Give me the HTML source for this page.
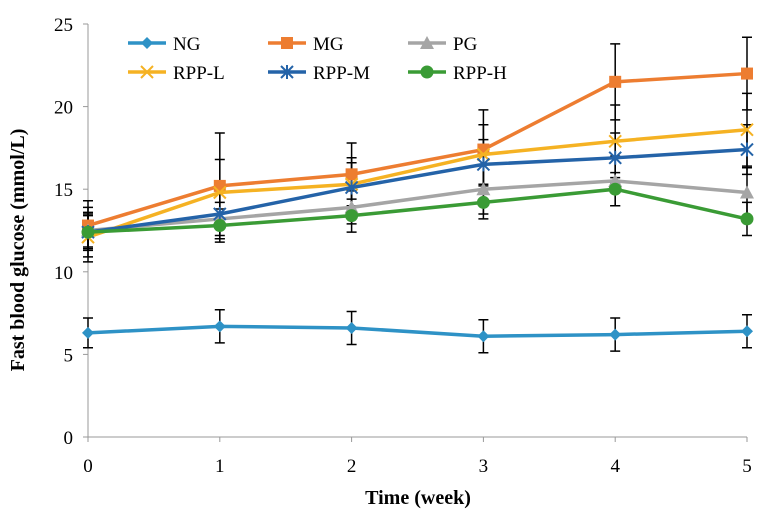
<!DOCTYPE html>
<html><head><meta charset="utf-8"><style>
body{margin:0;background:#fff}
svg{font-family:"Liberation Serif",serif}
</style></head><body>
<svg id="c" width="766" height="520"></svg>
<script>
const weeks=[0,1,2,3,4,5];
const yTicks=[0,5,10,15,20,25];
const seriesNames=["NG","MG","PG","RPP-L","RPP-M","RPP-H"];
const ngVals=[6.3,6.7,6.6,6.1,6.2,6.4];
const mgVals=[12.8,15.2,15.9,17.4,21.5,22.0];
const pgVals=[12.5,13.2,13.9,15.0,15.5,14.8];
const rlVals=[12.1,14.8,15.3,17.1,17.9,18.6];
const rmVals=[12.4,13.5,15.1,16.5,16.9,17.4];
const rhVals=[12.4,12.8,13.4,14.2,15.0,13.2];
const ngErr=[0.9,1.0,1.0,1.0,1.0,1.0];
const mgErr=[1.5,3.2,1.9,2.4,2.3,2.2];
const pgErr=[1.0,1.0,1.0,1.5,1.5,1.5];
const rlErr=[1.5,2.0,1.6,1.8,2.2,2.2];
const rmErr=[1.5,1.5,1.5,1.5,1.5,1.5];
const rhErr=[1.0,1.0,1.0,1.0,1.0,1.0];
const colors=["#2e92c6","#ed7d31","#a5a5a5","#f5b223","#2463a8","#3a9b35"];
const markers=["diamond","square","triangle","x","star","circle"];
const vals=[ngVals,mgVals,pgVals,rlVals,rmVals,rhVals];
const errs=[ngErr,mgErr,pgErr,rlErr,rmErr,rhErr];
const svg=document.getElementById('c');
const NS="http://www.w3.org/2000/svg";
const X=v=>88+v*(747-88)/5;
const Y=v=>437-v*(437-24)/25;
function mk(t,a,p){const e=document.createElementNS(NS,t);for(const k in a)e.setAttribute(k,a[k]);(p||svg).appendChild(e);return e;}
const ax=mk('g',{});


mk('line',{x1:88,y1:24,x2:88,y2:437,stroke:'#999'},ax);
mk('line',{x1:88,y1:437,x2:747,y2:437,stroke:'#999'},ax);
yTicks.forEach(t=>{
 mk('line',{x1:83,y1:Y(t),x2:88,y2:Y(t),stroke:'#999'},ax);
 const tx=mk('text',{x:73,y:Y(t)+7,'text-anchor':'end','font-size':19},ax);tx.textContent=t;
 
 
});
weeks.forEach(w=>{
 mk('line',{x1:X(w),y1:437,x2:X(w),y2:442,stroke:'#999'},ax);
 const tx=mk('text',{x:X(w),y:472,'text-anchor':'middle','font-size':19},ax);tx.textContent=w;
 
 
});
const xt=mk('text',{x:418,y:504,'text-anchor':'middle','font-size':20,'font-weight':'bold'});xt.textContent="Time (week)";


const yt=mk('text',{x:0,y:0,'text-anchor':'middle','font-size':20,'font-weight':'bold',transform:'translate(24,250) rotate(-90)'});yt.textContent="Fast blood glucose (mmol/L)";


function marker(type,x,y,c,p){
 if(type==='diamond')mk('polygon',{points:`${x},${y-6} ${x+6},${y} ${x},${y+6} ${x-6},${y}`,fill:c},p);
 else if(type==='square')mk('rect',{x:x-6,y:y-6,width:12,height:12,fill:c},p);
 else if(type==='triangle')mk('polygon',{points:`${x},${y-7} ${x+7},${y+6} ${x-7},${y+6}`,fill:c},p);
 else if(type==='circle')mk('circle',{cx:x,cy:y,r:6.5,fill:c},p);
 else if(type==='x'){mk('path',{d:`M${x-6},${y-6}L${x+6},${y+6}M${x+6},${y-6}L${x-6},${y+6}`,stroke:c,'stroke-width':2},p);}
 else {mk('path',{d:`M${x-6},${y-6}L${x+6},${y+6}M${x+6},${y-6}L${x-6},${y+6}M${x},${y-7}L${x},${y+7}`,stroke:c,'stroke-width':2},p);}
}
const eb=mk('g',{});


vals.forEach((s,i)=>s.forEach((v,j)=>{
 const x=X(weeks[j]),e=errs[i][j];
 mk('path',{d:`M${x},${Y(v-e)}L${x},${Y(v+e)}M${x-5},${Y(v-e)}L${x+5},${Y(v-e)}M${x-5},${Y(v+e)}L${x+5},${Y(v+e)}`,stroke:'#000','stroke-width':1.5,fill:'none'},eb);
}));
vals.forEach((s,i)=>{
 const g=mk('g',{});
 
 
 mk('polyline',{points:s.map((v,j)=>X(weeks[j])+','+Y(v)).join(' '),fill:'none',stroke:colors[i],'stroke-width':3.5},g);
 s.forEach((v,j)=>marker(markers[i],X(weeks[j]),Y(v),colors[i],g));
});
const lx=[128,268,408],ly=[43,72];
seriesNames.forEach((n,i)=>{
 const x=lx[i%3],y=ly[Math.floor(i/3)];
 const g=mk('g',{});
 
 
 mk('line',{x1:x,y1:y,x2:x+38,y2:y,stroke:colors[i],'stroke-width':3.5},g);
 marker(markers[i],x+19,y,colors[i],g);
 const t=mk('text',{x:x+45,y:y+7,'font-size':19},g);t.textContent=n;
});
</script>
</body></html>
